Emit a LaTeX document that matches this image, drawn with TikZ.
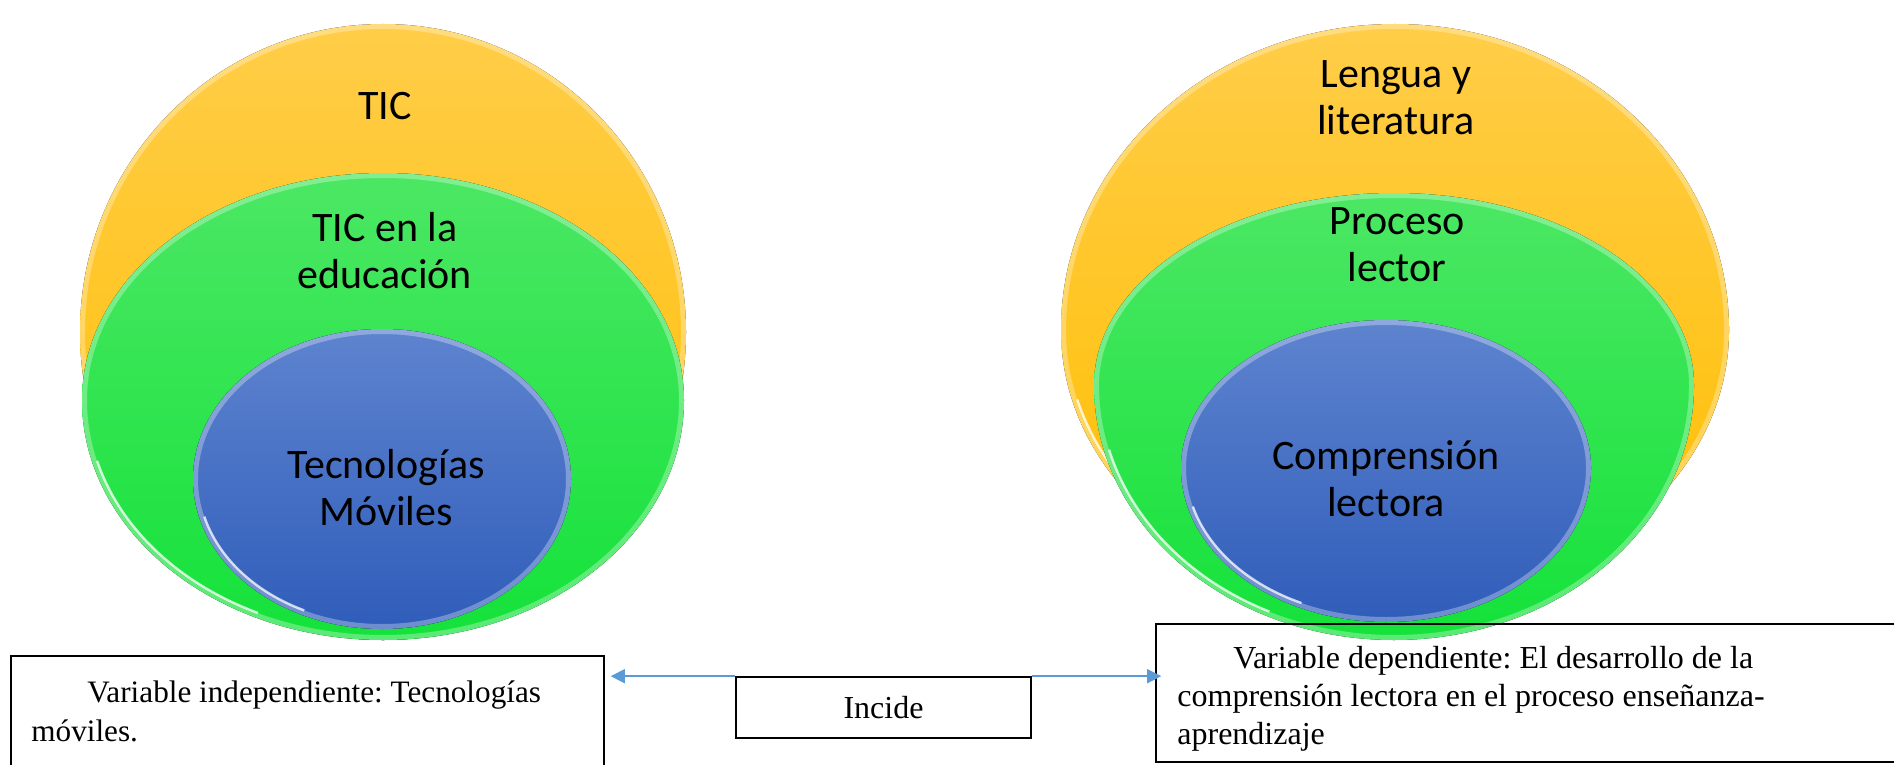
\documentclass[tikz,border=0pt]{standalone}
\usepackage{fontspec}
\setmainfont{Liberation Serif}
\newfontfamily\calibrifont{Carlito}
\usetikzlibrary{arrows.meta}
\definecolor{yelT}{RGB}{255,205,72}
\definecolor{yelB}{RGB}{255,190,0}
\definecolor{grnT}{RGB}{76,231,100}
\definecolor{grnB}{RGB}{20,226,58}
\definecolor{bluT}{RGB}{94,132,207}
\definecolor{bluB}{RGB}{48,93,186}
\definecolor{arrblue}{RGB}{91,155,213}
% egg-like shape: cx, widest y, rx, top radius, bottom radius, top colour, bottom colour
\newcommand\myEgg[7]{%
  \fill[top color=#6,bottom color=#7] (#1-#3,#2)
     arc[start angle=180,end angle=360,x radius=#3,y radius=#4]
     arc[start angle=0,end angle=180,x radius=#3,y radius=#5] -- cycle;
  \begin{scope}
    \clip (#1-#3,#2)
     arc[start angle=180,end angle=360,x radius=#3,y radius=#4]
     arc[start angle=0,end angle=180,x radius=#3,y radius=#5] -- cycle;
    \draw[white,opacity=.3,line width=5pt] (#1-#3,#2)
     arc[start angle=180,end angle=360,x radius=#3,y radius=#4]
     arc[start angle=0,end angle=180,x radius=#3,y radius=#5] -- cycle;
  \end{scope}
  \draw[white,opacity=.75,line width=1.2pt] (#1,#2) ++(115:{#3-5} and {#5-5})
     arc[start angle=115,end angle=165,x radius={#3-5},y radius={#5-5}];
}
\begin{document}
\frenchspacing
\begin{tikzpicture}[x=0.5pt,y=-0.5pt,
  eltext/.style={font=\calibrifont\fontsize{21}{23.5}\selectfont,align=center,inner sep=0pt},
  boxtext/.style={align=left,inner sep=0pt,anchor=north west},
  varbox/.style={draw=black,line width=0.8pt,rectangle,inner sep=0pt},
  arr/.style={draw=arrblue,line width=0.8pt,-{Triangle[length=7pt,width=7pt]}}]
\useasboundingbox (0,0) rectangle (1894,765);
\fill[white] (0,0) rectangle (1894,765);

% left group
\myEgg{383}{332}{303}{308}{308}{yelT}{yelB}
\myEgg{383}{400}{301}{227}{240}{grnT}{grnB}
\myEgg{382}{479}{189}{150}{150}{bluT}{bluB}
\node[eltext] (tic) at (385,106) {TIC};
\node[eltext] (ticedu) at (385,251) {TIC en la\\educación};
\node[eltext] (tecmov) at (386,488) {Tecnologías\\Móviles};

% right group
\myEgg{1395}{330}{334}{306}{273}{yelT}{yelB}
\myEgg{1394}{385}{300}{192}{255}{grnT}{grnB}
\myEgg{1386}{468}{205}{148}{154}{bluT}{bluB}
\node[eltext] (lengua) at (1396,98) {Lengua y\\literatura};
\node[eltext] (proceso) at (1397,245) {Proceso\\lector};
\node[eltext] (compr) at (1386,479) {Comprensión\\lectora};

% boxes
\node[varbox,minimum width=296.5pt,minimum height=72pt] (leftbox) at (307.5,728) {};
\node[boxtext,font=\fontsize{15.6}{19.5}\selectfont] (lefttext) at (31,680)
  {\hspace*{28pt}Variable independiente: Tecnologías\\móviles.};
\node[varbox,minimum width=147.5pt,minimum height=30.5pt,font=\fontsize{16}{19.5}\selectfont] (incide) at (883.5,707.5) {Incide};
\node[varbox,minimum width=382pt,minimum height=69pt] (rightbox) at (1538,693) {};
\node[boxtext,font=\fontsize{16}{19}\selectfont] (righttext) at (1177,646)
  {\hspace*{28pt}Variable dependiente: El desarrollo de la\\comprensión lectora en el proceso enseñanza-\\aprendizaje};

% connectors
\draw[arr] (incide.north west) -- ([xshift=3pt]incide.north west -| leftbox.east);
\draw[arr] (incide.north east) -- ([xshift=3pt]incide.north east -| rightbox.west);
\end{tikzpicture}
\end{document}
